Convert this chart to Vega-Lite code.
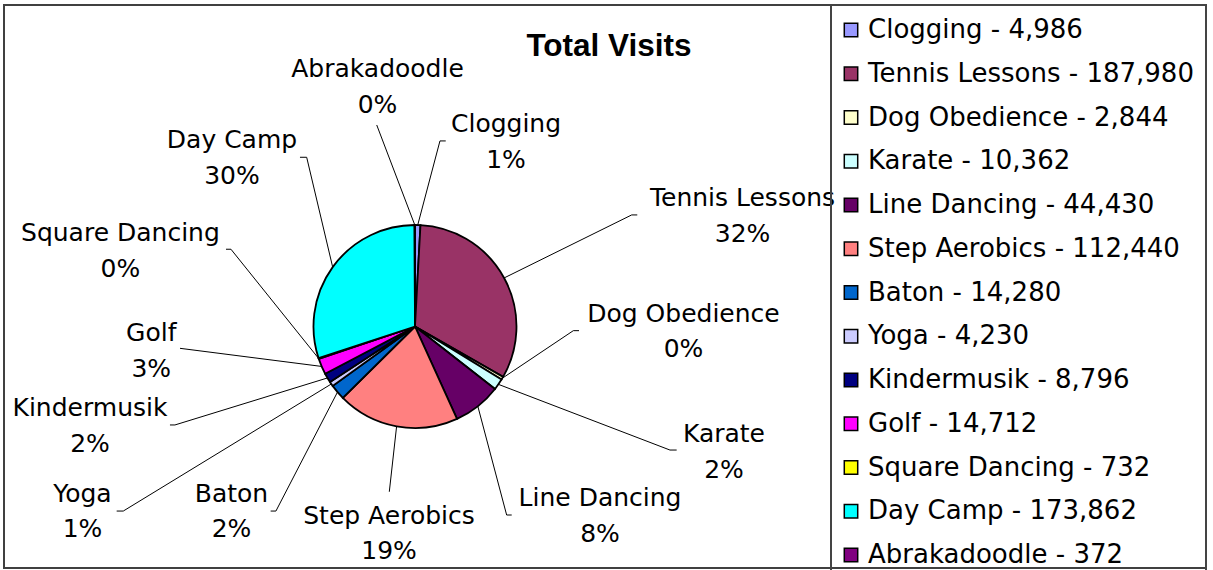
{
  "$schema": "https://vega.github.io/schema/vega-lite/v6.json",
  "width": 1202,
  "height": 563,
  "autosize": {"type": "none"},
  "padding": {"left": 4, "top": 5, "right": 7, "bottom": 2},
  "background": "white",
  "title": {
    "text": "Total Visits",
    "font": "Liberation Sans",
    "fontSize": 31.5,
    "fontWeight": "bold",
    "color": "black",
    "anchor": "middle",
    "frame": "group",
    "orient": "top",
    "offset": -52,
    "baseline": "alphabetic",
    "dx": 4,
    "dy": 31
  },
  "config": {
    "view": {"stroke": "#404040", "strokeWidth": 2},
    "font": "DejaVu Sans",
    "legend": {"strokeWidth": 2}
  },
  "datasets": {
    "layout": [
      {"activity": "Clogging", "lx": 0.897, "ly": 1.817, "kx": 0.246, "ky": 1.828, "ex": 0.303},
      {"activity": "Tennis Lessons", "lx": 3.227, "ly": 1.089, "kx": 2.135, "ky": 1.099, "ex": 2.19},
      {"activity": "Dog Obedience", "lx": 2.645, "ly": -0.049, "kx": 1.56, "ky": -0.041, "ex": 1.616},
      {"activity": "Karate", "lx": 3.044, "ly": -1.234, "kx": 2.512, "ky": -1.217, "ex": 2.578},
      {"activity": "Line Dancing", "lx": 1.823, "ly": -1.866, "kx": 0.903, "ky": -1.857, "ex": 0.953},
      {"activity": "Step Aerobics", "lx": -0.256, "ly": -2.039, "kx": -0.253, "ky": -1.628, "ex": -0.253},
      {"activity": "Baton", "lx": -1.808, "ly": -1.822, "kx": -1.37, "ky": -1.818, "ex": -1.422},
      {"activity": "Yoga", "lx": -3.276, "ly": -1.822, "kx": -2.874, "ky": -1.818, "ex": -2.939},
      {"activity": "Kindermusik", "lx": -3.202, "ly": -0.98, "kx": -2.365, "ky": -0.97, "ex": -2.414},
      {"activity": "Golf", "lx": -2.598, "ly": -0.238, "kx": -2.315, "ky": -0.215, "ex": -2.315},
      {"activity": "Square Dancing", "lx": -2.902, "ly": 0.742, "kx": -1.813, "ky": 0.761, "ex": -1.862},
      {"activity": "Day Camp", "lx": -1.803, "ly": 1.659, "kx": -1.067, "ky": 1.667, "ex": -1.133},
      {"activity": "Abrakadoodle", "lx": -0.369, "ly": 2.363, "kx": -0.377, "ky": 1.985, "ex": -0.377}
    ]
  },
  "data": {
    "values": [
      {"activity": "Clogging", "visits": 4986},
      {"activity": "Tennis Lessons", "visits": 187980},
      {"activity": "Dog Obedience", "visits": 2844},
      {"activity": "Karate", "visits": 10362},
      {"activity": "Line Dancing", "visits": 44430},
      {"activity": "Step Aerobics", "visits": 112440},
      {"activity": "Baton", "visits": 14280},
      {"activity": "Yoga", "visits": 4230},
      {"activity": "Kindermusik", "visits": 8796},
      {"activity": "Golf", "visits": 14712},
      {"activity": "Square Dancing", "visits": 732},
      {"activity": "Day Camp", "visits": 173862},
      {"activity": "Abrakadoodle", "visits": 372}
    ]
  },
  "transform": [
    {"window": [{"op": "row_number", "as": "rank"}]},
    {"joinaggregate": [{"op": "sum", "field": "visits", "as": "total"}]},
    {"window": [{"op": "sum", "field": "visits", "as": "cum"}], "sort": [{"field": "rank"}], "frame": [null, 0]},
    {"calculate": "(datum.cum - datum.visits / 2) / datum.total * 2 * PI", "as": "mid"},
    {"calculate": "sin(datum.mid)", "as": "sx"},
    {"calculate": "cos(datum.mid)", "as": "sy"},
    {"calculate": "datum.activity + '\\n' + format(datum.visits / datum.total, '.0%')", "as": "label"},
    {"calculate": "datum.activity + ' - ' + format(datum.visits, ',')", "as": "legendLabel"},
    {"lookup": "activity", "from": {"data": {"name": "layout"}, "key": "activity", "fields": ["lx", "ly", "kx", "ky", "ex"]}}
  ],
  "layer": [
    {
      "mark": {"type": "rule", "color": "black", "strokeWidth": 1},
      "encoding": {
        "x": {"field": "sx", "type": "quantitative", "scale": {"domain": [-4.049, 7.793], "nice": false, "zero": false}, "axis": null},
        "y": {"field": "sy", "type": "quantitative", "scale": {"domain": [-2.379, 3.167], "nice": false, "zero": false}, "axis": null},
        "x2": {"field": "kx"},
        "y2": {"field": "ky"}
      }
    },
    {
      "mark": {"type": "rule", "color": "black", "strokeWidth": 1},
      "encoding": {
        "x": {"field": "kx", "type": "quantitative", "scale": {"domain": [-4.049, 7.793], "nice": false, "zero": false}, "axis": null},
        "y": {"field": "ky", "type": "quantitative", "scale": {"domain": [-2.379, 3.167], "nice": false, "zero": false}, "axis": null},
        "x2": {"field": "ex"},
        "y2": {"field": "ky"}
      }
    },
    {
      "mark": {"type": "arc", "outerRadius": 101.5, "stroke": "black", "strokeWidth": 1.8},
      "encoding": {
        "theta": {"field": "visits", "type": "quantitative", "stack": true},
        "order": {"field": "rank", "type": "quantitative"},
        "x": {"datum": 0, "type": "quantitative", "scale": {"domain": [-4.049, 7.793], "nice": false, "zero": false}, "axis": null},
        "y": {"datum": 0, "type": "quantitative", "scale": {"domain": [-2.379, 3.167], "nice": false, "zero": false}, "axis": null},
        "color": {
          "field": "legendLabel",
          "type": "nominal",
          "sort": {"field": "rank", "op": "min"},
          "scale": {"range": ["#9999FF", "#993366", "#FFFFCC", "#CCFFFF", "#660066", "#FF8080", "#0066CC", "#CCCCFF", "#000080", "#FF00FF", "#FFFF00", "#00FFFF", "#800080"]},
          "legend": {
            "title": null,
            "orient": "none",
            "legendX": 827,
            "legendY": 0,
            "direction": "vertical",
            "symbolType": "square",
            "symbolSize": 180,
            "symbolStrokeColor": "black",
            "symbolStrokeWidth": 1.5,
            "symbolOpacity": 1,
            "symbolOffset": -5,
            "labelFont": "DejaVu Sans",
            "labelFontSize": 26,
            "labelColor": "black",
            "labelOffset": 4,
            "labelLimit": 500,
            "rowPadding": 17.75,
            "padding": 12,
            "strokeColor": "#444444"
          }
        }
      }
    },
    {
      "mark": {"type": "text", "font": "DejaVu Sans", "fontSize": 25, "lineBreak": "\n", "lineHeight": 35.8, "align": "center", "baseline": "middle", "dy": -17.9, "color": "black"},
      "encoding": {
        "x": {"field": "lx", "type": "quantitative", "scale": {"domain": [-4.049, 7.793], "nice": false, "zero": false}, "axis": null},
        "y": {"field": "ly", "type": "quantitative", "scale": {"domain": [-2.379, 3.167], "nice": false, "zero": false}, "axis": null},
        "text": {"field": "label"}
      }
    }
  ]
}
